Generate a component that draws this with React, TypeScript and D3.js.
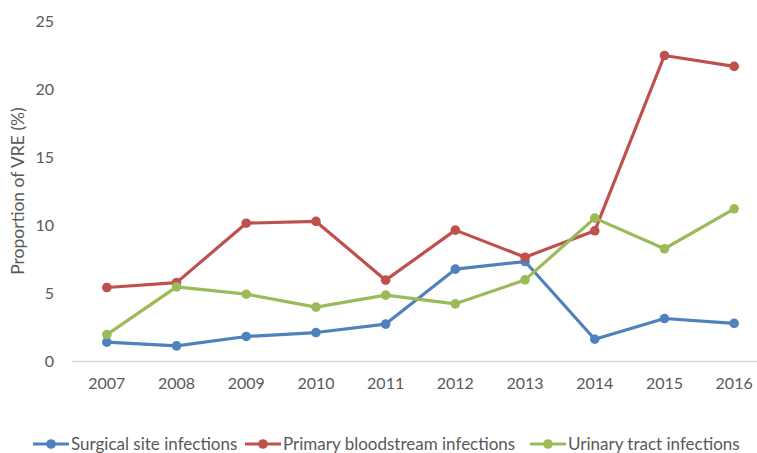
import React from "react";
import * as d3 from "d3";

const years = ["2007","2008","2009","2010","2011","2012","2013","2014","2015","2016"];
const surgical = [1.42, 1.15, 1.84, 2.13, 2.75, 6.79, 7.35, 1.64, 3.16, 2.8];
const bloodstream = [5.44, 5.8, 10.17, 10.3, 5.98, 9.66, 7.67, 9.61, 22.5, 21.7];
const urinary = [1.98, 5.49, 4.95, 4.0, 4.88, 4.24, 6.0, 10.54, 8.29, 11.23];
const yTicks = [0, 5, 10, 15, 20, 25];
const seriesNames = ["Surgical site infections", "Primary bloodstream infections", "Urinary tract infections"];
const colors = ["#4F81BD", "#C0504D", "#9BBB59"];

export default function App() {
  const W = 757, H = 453;
  const x = d3.scaleBand().domain(years).range([72, 769]);
  const y = d3.scaleLinear().domain([0, 25]).range([361.5, 21.5]);
  const line = d3.line<number>().x((_, i) => (x(years[i]) as number) + x.bandwidth() / 2).y(d => y(d));
  const series = [surgical, bloodstream, urinary];
  const font = "Lato, 'Open Sans', sans-serif";
  const legendX = [33, 245, 530];
  return (
    <svg width={W} height={H} style={{ position: "absolute", left: 0, top: 0, background: "#fff" }} fontFamily={font}>
      <line x1={72} x2={769} y1={y(0)} y2={y(0)} stroke="#D9D9D9" strokeWidth={1.5} />
      {yTicks.map(t => (
        <text key={t} x={54} y={y(t)} dy="0.35em" textAnchor="end" fontSize={16} fill="#595959">{t}</text>
      ))}
      {years.map(yr => (
        <text key={yr} x={(x(yr) as number) + x.bandwidth() / 2} y={389} textAnchor="middle" fontSize={16} fill="#595959">{yr}</text>
      ))}
      <text transform={`translate(24,${191}) rotate(-90)`} textAnchor="middle" fontSize={17.5} fill="#595959">Proportion of VRE (%)</text>
      {series.map((s, k) => (
        <g key={k}>
          <path d={line(s) as string} fill="none" stroke={colors[k]} strokeWidth={3.2} strokeLinejoin="round" />
          {s.map((v, i) => (
            <circle key={i} cx={(x(years[i]) as number) + x.bandwidth() / 2} cy={y(v)} r={4.8} fill={colors[k]} />
          ))}
        </g>
      ))}
      {seriesNames.map((n, k) => (
        <g key={n} transform={`translate(${legendX[k]},444)`}>
          <line x1={0} x2={36} y1={0} y2={0} stroke={colors[k]} strokeWidth={3.2} />
          <circle cx={18} cy={0} r={4.8} fill={colors[k]} />
          <text x={38} y={0} dy="0.35em" fontSize={17} fill="#595959">{n}</text>
        </g>
      ))}
    </svg>
  );
}
